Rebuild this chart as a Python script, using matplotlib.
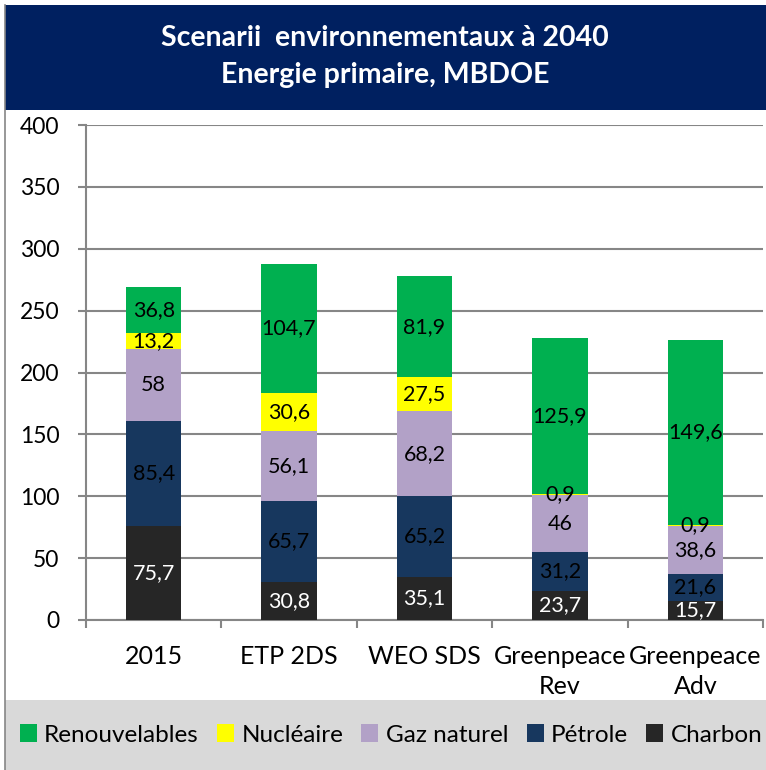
import numpy as np
import matplotlib
matplotlib.use("Agg")
import matplotlib.pyplot as plt
from matplotlib.patches import Rectangle

plt.rcParams['font.family'] = ['Lato', 'DejaVu Sans']

categories = ["2015", "ETP 2DS", "WEO SDS", "Greenpeace\nRev", "Greenpeace\nAdv"]
series_names = ["Charbon", "Pétrole", "Gaz naturel", "Nucléaire", "Renouvelables"]
charbon = [75.7, 30.8, 35.1, 23.7, 15.7]
petrole = [85.4, 65.7, 65.2, 31.2, 21.6]
gaz = [58, 56.1, 68.2, 46, 38.6]
nucleaire = [13.2, 30.6, 27.5, 0.9, 0.9]
renouvelables = [36.8, 104.7, 81.9, 125.9, 149.6]
yticks = [0, 50, 100, 150, 200, 250, 300, 350, 400]

series = [charbon, petrole, gaz, nucleaire, renouvelables]
colors = ["#262626", "#17375E", "#B2A1C7", "#FFFF00", "#00B050"]
text_colors = ["white", "black", "black", "black", "black"]

fig = plt.figure(figsize=(7.66, 7.70), dpi=100)

# title band and legend band
fig.patches.append(Rectangle((5/766, 1-110/770), 1, 105/770, transform=fig.transFigure,
                             facecolor="#002060", edgecolor="none", zorder=0))
fig.patches.append(Rectangle((5/766, 0), 1, 70/770, transform=fig.transFigure,
                             facecolor="#D9D9D9", edgecolor="none", zorder=0))
fig.add_artist(plt.Line2D([5/766, 5/766], [0, 1-5/770], transform=fig.transFigure,
                          color="#868686", lw=1.2))
fig.text(0.5 + 2/766, 1-38/770, "Scenarii  environnementaux à 2040", color="white",
         fontsize=20.5, fontweight="bold", ha="center", va="center")
fig.text(0.5 + 2/766, 1-75/770, "Energie primaire, MBDOE", color="white",
         fontsize=20.5, fontweight="bold", ha="center", va="center")

ax = fig.add_axes([86/766, 1-620/770, 677/766, 495/770])
x = np.arange(len(categories))
bottom = np.zeros(len(categories))
for vals, name, col, tcol in zip(series, series_names, colors, text_colors):
    vals = np.array(vals, dtype=float)
    ax.bar(x, vals, 0.41, bottom=bottom, color=col, label=name, zorder=3)
    for xi, b, v in zip(x, bottom, vals):
        ax.text(xi, b + v/2, f"{v:g}".replace(".", ","), ha="center", va="center",
                color=tcol, fontsize=15.5, zorder=4)
    bottom += vals

ax.set_xlim(-0.5, len(categories) - 0.5)
ax.set_ylim(0, 400)
ax.set_yticks(yticks)
ax.yaxis.grid(True, color="#868686", lw=1.5, zorder=0)
ax.tick_params(axis="y", length=6, width=1.5, color="#868686", labelsize=16.5, pad=13)
ax.set_xticks(x)
ax.set_xticklabels(categories, fontsize=18, linespacing=1.35)
ax.set_xticks(np.arange(len(categories) + 1) - 0.5, minor=True)
ax.tick_params(axis="x", which="major", length=0, pad=18)
ax.tick_params(axis="x", which="minor", length=6, width=1.5, color="#868686")
for s in ["top", "right"]:
    ax.spines[s].set_visible(False)
for s in ["left", "bottom"]:
    ax.spines[s].set_color("#868686")
    ax.spines[s].set_linewidth(1.5)

handles, labels = ax.get_legend_handles_labels()
fig.legend(handles[::-1], labels[::-1], loc="center", bbox_to_anchor=(0.5 + 8/766, 35/770),
           ncol=5, frameon=False, fontsize=17.5, handlelength=0.7, handleheight=0.7,
           handletextpad=0.3, columnspacing=0.75)

fig.savefig("out.png", dpi=100)
